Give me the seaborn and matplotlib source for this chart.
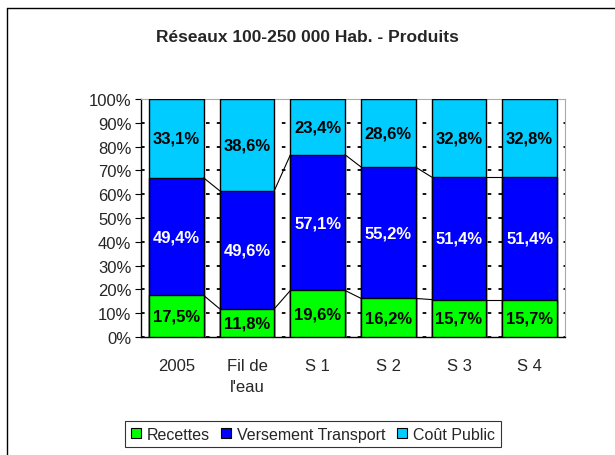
import numpy as np
import pandas as pd
import matplotlib
matplotlib.use('Agg')
import matplotlib.pyplot as plt
import seaborn as sns
from matplotlib.patches import Patch
from matplotlib.lines import Line2D

# Data (percent of total products)
categories = ['2005', "Fil de\nl'eau", 'S 1', 'S 2', 'S 3', 'S 4']
recettes = [17.5, 11.8, 19.6, 16.2, 15.7, 15.7]
versement = [49.4, 49.6, 57.1, 55.2, 51.4, 51.4]
cout_public = [33.1, 38.6, 23.4, 28.6, 32.8, 32.8]
series_names = ['Recettes', 'Versement Transport', 'Coût Public']
colors = ['#00FF00', '#0000FF', '#00CCFF']
label_colors = ['black', 'white', 'black']

sns.set_style('white')
plt.rcParams['font.family'] = ['Liberation Sans', 'DejaVu Sans']

df = pd.DataFrame({'cat': categories, 'Recettes': recettes,
                   'Versement Transport': versement, 'Coût Public': cout_public})
total = df[series_names].sum(axis=1)
pct = df[series_names].div(total, axis=0) * 100
cum = pct.cumsum(axis=1)

fig = plt.figure(figsize=(6.15, 4.56), dpi=100)
ax = fig.add_axes([0.2293, 0.2588, 0.6894, 0.5219])

bar_w = 0.77
# stacked bars: draw cumulative totals from the top layer down
for name, col in reversed(list(zip(series_names, colors))):
    sns.barplot(x=df['cat'], y=cum[name], color=col, width=bar_w,
                edgecolor='black', linewidth=1, saturation=1, ax=ax, zorder=3)

# segment labels
for j, name in enumerate(series_names):
    for i in range(len(categories)):
        bottom = cum[name][i] - pct[name][i]
        ax.text(i, bottom + pct[name][i] / 2, f"{df[name][i]:.1f}%".replace('.', ','),
                ha='center', va='center', fontsize=12, fontweight='bold',
                color=label_colors[j], zorder=5)

# series lines between adjacent bars
for name in series_names[:2]:
    for i in range(len(categories) - 1):
        ax.plot([i + bar_w / 2, i + 1 - bar_w / 2], [cum[name][i], cum[name][i + 1]],
                color='black', linewidth=0.8, zorder=4)

ax.set_xlim(-0.5, len(categories) - 0.5)
ax.set_ylim(0, 100)
ax.set_yticks(np.arange(0, 101, 10))
ax.set_yticklabels([f"{v}%" for v in range(0, 101, 10)], fontsize=12)
ax.set_xticks(range(len(categories)))
ax.set_xticklabels(categories, fontsize=12, linespacing=1.55)
ax.set_xticks(np.arange(-0.5, len(categories), 1), minor=True)
ax.tick_params(axis='x', which='major', length=0, pad=15)
ax.tick_params(axis='x', which='minor', length=4, color='black', direction='out')
ax.tick_params(axis='y', length=4, color='black', direction='out', left=True, pad=3)
ax.set_xlabel('')
ax.set_ylabel('')

ax.yaxis.grid(True, color='black', linestyle=(0, (2, 4)), linewidth=1.3, zorder=0)
ax.set_axisbelow(True)
for side in ['left', 'bottom']:
    ax.spines[side].set_color('black')
    ax.spines[side].set_linewidth(1)
for side in ['top', 'right']:
    ax.spines[side].set_color('#aaaaaa')
    ax.spines[side].set_linewidth(0.8)

fig.suptitle('Réseaux 100-250 000 Hab. - Produits', x=0.5, y=0.935,
             fontsize=12.5, fontweight='bold')

handles = [Patch(facecolor=c, edgecolor='black', linewidth=0.8) for c in colors]
leg = fig.legend(handles, series_names, loc='center', bbox_to_anchor=(0.509, 0.046),
                 ncol=3, fontsize=11.5, frameon=True, fancybox=False,
                 handlelength=0.6, handleheight=0.6, handletextpad=0.4,
                 columnspacing=0.7, borderpad=0.35, edgecolor='black')
leg.get_frame().set_linewidth(0.8)

# outer chart frame (right and bottom edges fall outside the image)
fig.add_artist(Line2D([0.0114, 0.0114], [0.0, 0.980], transform=fig.transFigure,
                      color='black', linewidth=1))
fig.add_artist(Line2D([0.0114, 1.0], [0.980, 0.980], transform=fig.transFigure,
                      color='black', linewidth=1))

fig.savefig('out.png', dpi=100)
